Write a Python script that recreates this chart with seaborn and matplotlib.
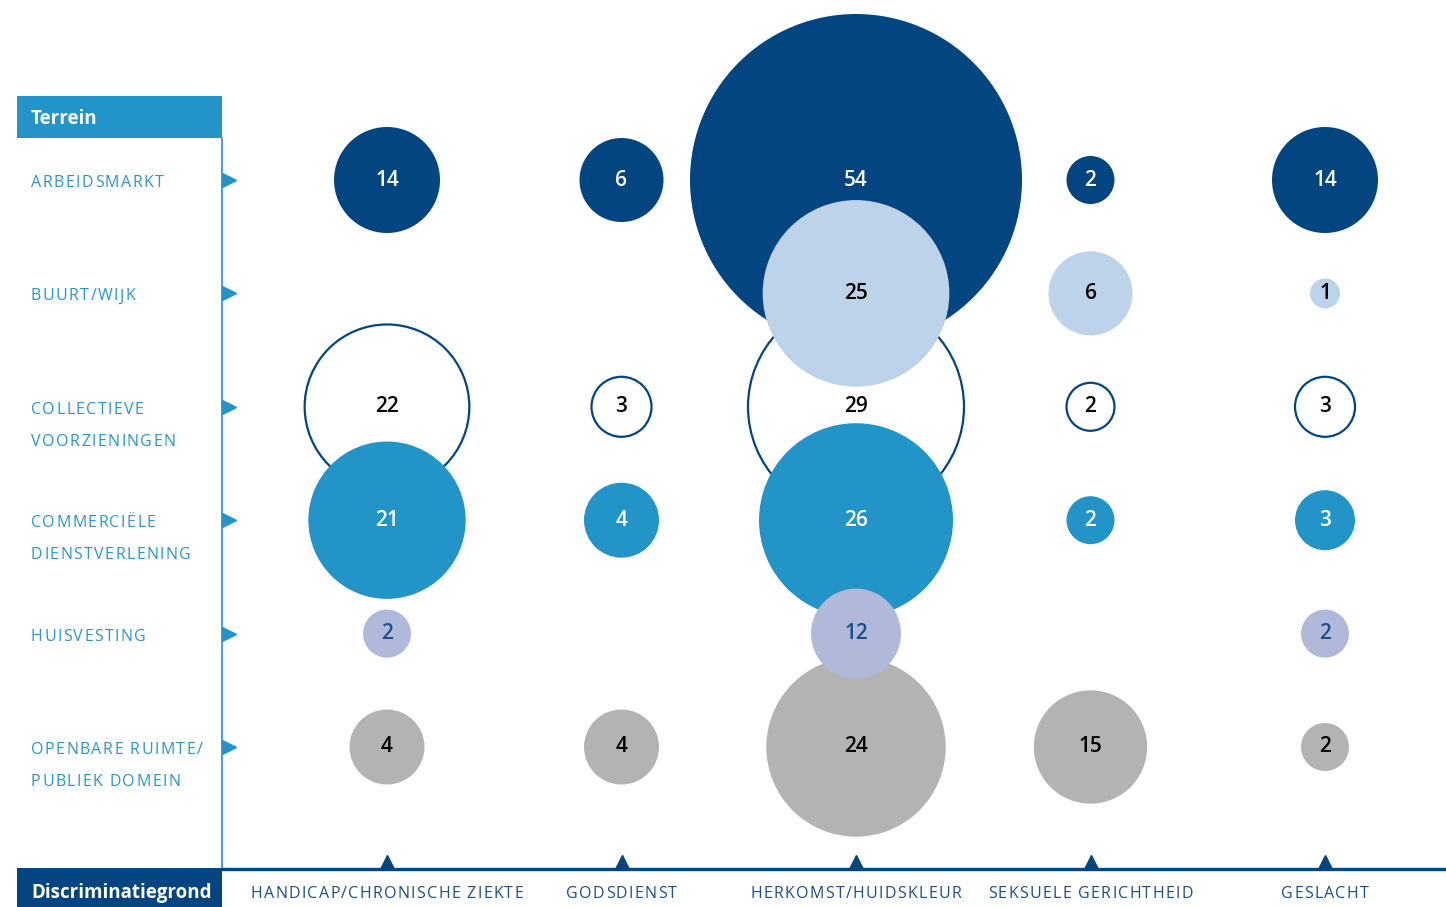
import numpy as np
import pandas as pd
import matplotlib
matplotlib.use("Agg")
import matplotlib.pyplot as plt
import matplotlib.transforms as mtransforms
from matplotlib.patches import Rectangle
from matplotlib.lines import Line2D
from matplotlib.font_manager import FontProperties, findfont, get_font
import seaborn as sns

# ---------------- data ----------------
grounds = ["HANDICAP/CHRONISCHE ZIEKTE", "GODSDIENST", "HERKOMST/HUIDSKLEUR",
           "SEKSUELE GERICHTHEID", "GESLACHT"]
terrain_labels = [["ARBEIDSMARKT"], ["BUURT/WIJK"], ["COLLECTIEVE", "VOORZIENINGEN"],
                  ["COMMERCIËLE", "DIENSTVERLENING"], ["HUISVESTING"],
                  ["OPENBARE RUIMTE/", "PUBLIEK DOMEIN"]]
arbeidsmarkt = [14, 6, 54, 2, 14]
buurt_wijk = [np.nan, np.nan, 25, 6, 1]
collectieve_voorzieningen = [22, 3, 29, 2, 3]
commerciele_dienstverlening = [21, 4, 26, 2, 3]
huisvesting = [2, np.nan, 12, np.nan, 2]
openbare_ruimte = [4, 4, 24, 15, 2]
rows = [arbeidsmarkt, buurt_wijk, collectieve_voorzieningen,
        commerciele_dienstverlening, huisvesting, openbare_ruimte]

# ---------------- styles ----------------
DARK = "#034580"
LIGHT = "#bcd3e9"
MID = "#2394c8"
LAV = "#b0b9da"
GREY = "#b3b3b3"
LABEL_BLUE = "#2a96c8"
AXIS_TEXT = "#1e4f88"
row_styles = [
    dict(face=DARK, edge="none", lw=0, txt="white"),
    dict(face=LIGHT, edge="none", lw=0, txt="black"),
    dict(face="white", edge=DARK, lw=1.6, txt="black"),
    dict(face=MID, edge="none", lw=0, txt="white"),
    dict(face=LAV, edge="none", lw=0, txt=AXIS_TEXT),
    dict(face=GREY, edge="none", lw=0, txt="black"),
]
draw_order = [2, 0, 1, 3, 5, 4]

# bubble radius scale (pixels) as a monotone function of the value
scale_v = [0, 1, 2, 3, 4, 6, 12, 14, 29, 54]
scale_r = [8, 15, 24, 30, 37.5, 42, 45, 53, 108, 166]

def area_pt2(v):
    r_px = np.interp(v, scale_v, scale_r)
    return (2 * r_px * 72 / 100) ** 2

records = []
for ri, vals in enumerate(rows):
    for ci, v in enumerate(vals):
        if not np.isnan(v):
            records.append(dict(row=ri, col=ci, value=float(v)))
df = pd.DataFrame(records)
size_map = {v: area_pt2(v) for v in df["value"].unique()}

FAMILY = ["Open Sans", "DejaVu Sans"]
plt.rcParams["font.family"] = FAMILY
W, H = 1446, 907
DPI = 100
fig = plt.figure(figsize=(W / DPI, H / DPI), dpi=DPI)
fig.patch.set_facecolor("white")

# ---------- letter-spaced text helper (pixel coordinates, y from top) ----------
_font = get_font(findfont(FontProperties(family="Open Sans")))

def _advances(s, size):
    _font.set_size(size, DPI)
    adv = []
    for ch in s:
        try:
            g = _font.load_char(ord(ch), flags=matplotlib.ft2font.LoadFlags.NO_HINTING)
        except AttributeError:
            g = _font.load_char(ord(ch), flags=matplotlib.ft2font.LOAD_NO_HINTING)
        adv.append(g.linearHoriAdvance / 65536)
    return adv

def spaced_text(x_px, y_px, s, size, color, track, ha="left", **kw):
    adv = _advances(s, size)
    total = sum(adv) + track * (len(s) - 1)
    x = x_px - (total / 2 if ha == "center" else 0)
    for ch, a in zip(s, adv):
        if ch != " ":
            fig.text(x / W, (H - y_px) / H, ch, fontsize=size, color=color,
                     ha="left", va="center", **kw)
        x += a + track

# axes: from x=222px to right edge, from top to y=869px
ax = fig.add_axes([222 / W, (H - 869) / H, (W - 222) / W, 869 / H])
col_step = 234.5
row_step = 113.4
x0 = -(387 - 222) / col_step
ax.set_xlim(x0, x0 + (W - 222) / col_step)
y_bottom = 5 + (869 - 747) / row_step
ax.set_ylim(y_bottom, y_bottom - 869 / row_step)
ax.set_facecolor("none")
for s in ax.spines.values():
    s.set_visible(False)

z = 2
for ri in draw_order:
    st = row_styles[ri]
    sub = df[df["row"] == ri]
    sns.scatterplot(data=sub, x="col", y="row", size="value", sizes=size_map,
                    ax=ax, legend=False, color=st["face"], edgecolor=st["edge"],
                    linewidth=st["lw"], zorder=z, clip_on=False)
    for _, r in sub.iterrows():
        ax.text(r["col"], r["row"], f"{int(r['value'])}",
                ha="center", va="center", color=st["txt"], fontsize=15,
                fontweight="semibold", zorder=z + 0.5)
    z += 1
ax.set_xlabel(""); ax.set_ylabel("")
ax.set_xticks([]); ax.set_yticks([])

# ---------------- decorations ----------------
fig.add_artist(Line2D([222 / W, 222 / W], [(H - 138) / H, (H - 869) / H],
                      color=MID, lw=1.2, transform=fig.transFigure))
fig.add_artist(Line2D([222 / W, 1.0], [(H - 869) / H, (H - 869) / H],
                      color=DARK, lw=2.4, transform=fig.transFigure))

fig.add_artist(Rectangle((17 / W, (H - 138) / H), (222 - 17) / W, 42 / H,
                         facecolor=MID, edgecolor="none", transform=fig.transFigure))
fig.text(31 / W, (H - 119) / H, "Terrein", color="white", fontsize=13.5,
         fontweight="bold", va="center", ha="left")
fig.add_artist(Rectangle((17 / W, 0), (222 - 17) / W, (H - 868) / H,
                         facecolor=DARK, edgecolor="none", transform=fig.transFigure))
fig.text(31 / W, (H - 893) / H, "Discriminatiegrond", color="white", fontsize=13.5,
         fontweight="bold", va="center", ha="left")

# row labels and right-pointing arrows
tr_arrow = mtransforms.blended_transform_factory(ax.transAxes, ax.transData)
for ri, lines in enumerate(terrain_labels):
    y_disp = ax.transData.transform((0, ri))[1]
    y_px = H - y_disp
    for li, line in enumerate(lines):
        spaced_text(31, y_px + 3 + 32 * li, line, 11.5, LABEL_BLUE, 1.4)
    ax.plot([7 / (W - 222)], [ri], marker=">", markersize=10, color=MID,
            transform=tr_arrow, clip_on=False, linestyle="none")

# column labels and up-pointing arrows
tr_carrow = mtransforms.blended_transform_factory(ax.transData, ax.transAxes)
for ci, g in enumerate(grounds):
    x_px = ax.transData.transform((ci, 0))[0]
    spaced_text(x_px, 894, g, 11.5, AXIS_TEXT, 1.3, ha="center")
    ax.plot([ci], [7 / 869], marker="^", markersize=10, color=DARK,
            transform=tr_carrow, clip_on=False, linestyle="none")

fig.savefig("out.png", dpi=DPI, facecolor="white")
